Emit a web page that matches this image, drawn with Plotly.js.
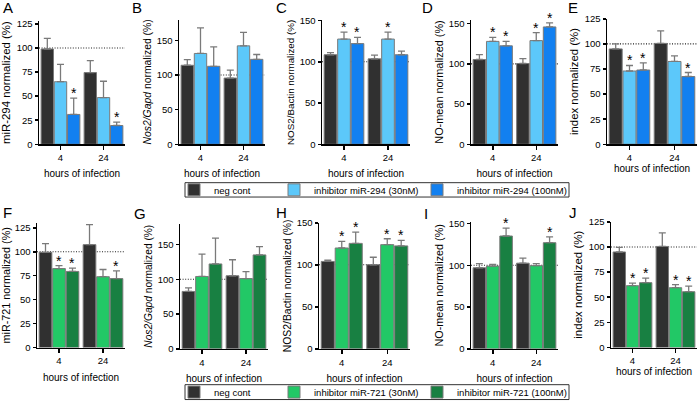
<!DOCTYPE html>
<html><head><meta charset="utf-8">
<script src="https://cdn.plot.ly/plotly-3.0.1.min.js"></script>
<style>html,body{margin:0;padding:0;background:#fff}#chart{width:700px;height:407px}</style>
</head><body><div id="chart"></div>
<script>
// ---------- data ----------
const hours = ['4', '24'];
const names294 = ['neg cont', 'inhibitor miR-294 (30nM)', 'inhibitor miR-294 (100nM)'];
const names721 = ['neg cont', 'inhibitor miR-721 (30nM)', 'inhibitor miR-721 (100nM)'];
const colors294 = ['#303030', '#5cc8fa', '#1280f0'];
const colors721 = ['#303030', '#22c866', '#188042'];

// A: miR-294 normalized
const A_neg = [99, 74.5],    A_neg_err = [11, 12.5];
const A_i30 = [65, 48.5],    A_i30_err = [18, 17];
const A_i100 = [31, 19.5],   A_i100_err = [17, 3.5];
const A_sig30 = [0, 0],      A_sig100 = [1, 1];
// B: Nos2/Gapd normalized
const B_neg = [114, 95.5],   B_neg_err = [8, 11.5];
const B_i30 = [131, 142],    B_i30_err = [37, 19.5];
const B_i100 = [112.5, 122.5], B_i100_err = [28, 7];
const B_sig30 = [0, 0],      B_sig100 = [0, 0];
// C: NOS2/Bactin normalized
const C_neg = [108.5, 103.5], C_neg_err = [2.5, 4.5];
const C_i30 = [127.5, 127.5], C_i30_err = [8.5, 8.5];
const C_i100 = [122, 108.5],  C_i100_err = [7.5, 4.5];
const C_sig30 = [1, 1],       C_sig100 = [1, 0];
// D: NO-mean normalized
const D_neg = [105.5, 100.5], D_neg_err = [6, 6];
const D_i30 = [128, 129],     D_i30_err = [5, 10];
const D_i100 = [122.5, 146],  D_i100_err = [5.5, 5];
const D_sig30 = [1, 1],       D_sig100 = [1, 1];
// E: index normalized
const E_neg = [95, 100.5],   E_neg_err = [5, 12.5];
const E_i30 = [73, 82.5],    E_i30_err = [5.5, 5.5];
const E_i100 = [74, 67.5],   E_i100_err = [7, 4];
const E_sig30 = [1, 0],      E_sig100 = [1, 1];
// F: miR-721 normalized
const F_neg = [99.5, 107.5], F_neg_err = [9, 21];
const F_i30 = [82.5, 74],    F_i30_err = [3, 7.5];
const F_i100 = [79.5, 72],   F_i100_err = [3.5, 8];
const F_sig30 = [1, 0],      F_sig100 = [1, 1];
// G: Nos2/Gapd normalized
const G_neg = [82.5, 105],   G_neg_err = [5, 23];
const G_i30 = [104, 101],    G_i30_err = [32, 10];
const G_i100 = [122, 135],   G_i100_err = [37, 12];
const G_sig30 = [0, 0],      G_sig100 = [0, 0];
// H: NOS2/Bactin normalized
const H_neg = [104, 100],    H_neg_err = [1.5, 9];
const H_i30 = [120, 124],    H_i30_err = [8, 7];
const H_i100 = [125.5, 122.5], H_i100_err = [13.5, 6.5];
const H_sig30 = [1, 1],      H_sig100 = [1, 1];
// I: NO-mean normalized
const I_neg = [97, 102.5],   I_neg_err = [5, 6];
const I_i30 = [99, 99.5],    I_i30_err = [2, 2.5];
const I_i100 = [135, 127],   I_i100_err = [9.5, 7];
const I_sig30 = [0, 0],      I_sig100 = [1, 1];
// J: index normalized
const J_neg = [95, 100.5],   J_neg_err = [4.5, 13.5];
const J_i30 = [61.5, 59.5],  J_i30_err = [2.5, 3];
const J_i100 = [64.5, 55.5], J_i100_err = [4.5, 5.5];
const J_sig30 = [1, 1],      J_sig100 = [1, 1];

const ticks25 = [0, 25, 50, 75, 100, 125];
const ticks50 = [0, 50, 100, 150];

// ---------- layout geometry ----------
const W = 700, H = 407;
const FONT = 'Liberation Sans, Arial, Helvetica, sans-serif';
const bargap = 0.08;

const panels = [
  {L:'A', t:'miR-294 normalized (%)', ts:11.4, v:[A_neg,A_i30,A_i100], e:[A_neg_err,A_i30_err,A_i100_err], s:[null,A_sig30,A_sig100], n:names294, c:colors294, tv:ticks25, r:[0,128], box:[39,125,21.3,145.7], lp:[8,8], xs:8},
  {L:'B', t:'<i>Nos2/Gapd</i> normalized (%)', ts:10.4, v:[B_neg,B_i30,B_i100], e:[B_neg_err,B_i30_err,B_i100_err], s:[null,B_sig30,B_sig100], n:names294, c:colors294, tv:ticks50, r:[0,180], box:[179,265,19.7,145.7], lp:[137,8], xs:8},
  {L:'C', t:'NOS2/Bactin normalized (%)', ts:9.8, v:[C_neg,C_i30,C_i100], e:[C_neg_err,C_i30_err,C_i100_err], s:[null,C_sig30,C_sig100], n:names294, c:colors294, tv:ticks50, r:[0,150], box:[322,410,20.7,145.7], lp:[281,8], xs:8},
  {L:'D', t:'NO-mean normalized (%)', ts:10.9, v:[D_neg,D_i30,D_i100], e:[D_neg_err,D_i30_err,D_i100_err], s:[null,D_sig30,D_sig100], n:names294, c:colors294, tv:ticks50, r:[0,155], box:[471,558,19.9,145.7], lp:[427,8], xs:8},
  {L:'E', t:'index normalized (%)', ts:11.4, v:[E_neg,E_i30,E_i100], e:[E_neg_err,E_i30_err,E_i100_err], s:[null,E_sig30,E_sig100], n:names294, c:colors294, tv:ticks25, r:[0,125], box:[607,697,19,145.7], lp:[573,8], xs:2},
  {L:'F', t:'miR-721 normalized (%)', ts:10.8, v:[F_neg,F_i30,F_i100], e:[F_neg_err,F_i30_err,F_i100_err], s:[null,F_sig30,F_sig100], n:names721, c:colors721, tv:ticks25, r:[0,130], box:[37,125,225.3,351], lp:[7,215], xs:8},
  {L:'G', t:'<i>Nos2/Gapd</i> normalized (%)', ts:10.2, v:[G_neg,G_i30,G_i100], e:[G_neg_err,G_i30_err,G_i100_err], s:[null,G_sig30,G_sig100], n:names721, c:colors721, tv:ticks50, r:[0,180], box:[180,268,225.8,352.3], lp:[140,216], xs:8},
  {L:'H', t:'NOS2/Bactin normalized (%)', ts:10.4, v:[H_neg,H_i30,H_i100], e:[H_neg_err,H_i30_err,H_i100_err], s:[null,H_sig30,H_sig100], n:names721, c:colors721, tv:ticks50, r:[0,150], box:[319,410,225,352.3], lp:[281,215], xs:8},
  {L:'I', t:'NO-mean normalized (%)', ts:10.8, v:[I_neg,I_i30,I_i100], e:[I_neg_err,I_i30_err,I_i100_err], s:[null,I_sig30,I_sig100], n:names721, c:colors721, tv:ticks50, r:[0,152], box:[471,558,224,352.3], lp:[426,216], xs:8},
  {L:'J', t:'index normalized (%)', ts:11.5, v:[J_neg,J_i30,J_i100], e:[J_neg_err,J_i30_err,J_i100_err], s:[null,J_sig30,J_sig100], n:names721, c:colors721, tv:ticks25, r:[0,125], box:[611,697,224,351], lp:[573,215], xs:2}
];

const traces = [];
const layout = {
  width: W, height: H,
  margin: {l:0, r:0, t:0, b:0},
  paper_bgcolor: '#fff', plot_bgcolor: 'rgba(0,0,0,0)',
  font: {family: FONT, color: '#000', size: 10},
  barmode: 'group', bargap: bargap, bargroupgap: 0.06,
  showlegend: true,
  annotations: [], shapes: []
};

panels.forEach((p, i) => {
  const k = i + 1;
  const xa = k === 1 ? 'x' : 'x' + k;
  const ya = k === 1 ? 'y' : 'y' + k;
  const [x0, x1, top, bot] = p.box;
  layout[k === 1 ? 'xaxis' : 'xaxis' + k] = {
    domain: [x0 / W, x1 / W], anchor: ya,
    type: 'category', categoryorder: 'array', categoryarray: hours,
    range: [-0.5, 1.5], fixedrange: true,
    showline: true, linecolor: '#000', linewidth: 1.5,
    ticks: 'outside', ticklen: 4, tickwidth: 1.5, tickcolor: '#000',
    tickfont: {size: 9.5, family: FONT},
    showgrid: false, zeroline: false,
    title: {text: 'hours of infection', font: {size: 10, family: FONT}, standoff: p.xs}
  };
  layout[k === 1 ? 'yaxis' : 'yaxis' + k] = {
    domain: [1 - bot / H, 1 - top / H], anchor: xa,
    range: p.r, fixedrange: true,
    tickmode: 'array', tickvals: p.tv,
    showline: true, linecolor: '#000', linewidth: 1.5,
    ticks: 'outside', ticklen: 3, tickwidth: 1.5, tickcolor: '#000',
    tickfont: {size: 9.5, family: FONT},
    showgrid: false, zeroline: false,
    title: {text: p.t, font: {size: p.ts, family: FONT}, standoff: 3}
  };
  // dotted 100% reference line
  layout.shapes.push({
    type: 'line', layer: 'below',
    xref: xa + ' domain', x0: 0, x1: 1,
    yref: ya, y0: 100, y1: 100,
    line: {color: '#222', width: 1.1, dash: '1px,1.6px'}
  });
  // panel letter
  layout.annotations.push({
    xref: 'paper', yref: 'paper', x: p.lp[0] / W, y: 1 - p.lp[1] / H,
    xanchor: 'center', yanchor: 'middle', showarrow: false,
    text: p.L, font: {size: 15, family: FONT, color: '#000'}
  });
  const bw = (1 - bargap) / 3;
  for (let s = 0; s < 3; s++) {
    const isLegendPanel = (p.L === 'A' || p.L === 'F');
    const tr = {
      type: 'bar', x: hours, y: p.v[s], name: p.n[s],
      xaxis: xa, yaxis: ya,
      marker: {color: p.c[s], line: {color: '#7a7a7a', width: 1}},
      error_y: {type: 'data', array: p.e[s], symmetric: false, arrayminus: [0, 0],
                color: '#7a7a7a', thickness: 1.3, width: 3.5},
      showlegend: isLegendPanel,
      legend: p.L === 'F' ? 'legend2' : 'legend',
      hoverinfo: 'skip'
    };
    if (s === 0) tr.legendwidth = 55;
    if (s === 1) tr.legendwidth = 98;
    traces.push(tr);
    // significance stars
    if (p.s[s]) {
      p.s[s].forEach((flag, g) => {
        if (!flag) return;
        layout.annotations.push({
          xref: xa, yref: ya, x: g + (s - 1) * bw, y: p.v[s][g] + p.e[s][g],
          xanchor: 'center', yanchor: 'bottom', yshift: -5, showarrow: false,
          text: '*', font: {size: 14, family: FONT, color: '#000'}
        });
      });
    }
  }
});

// legends
const legendCommon = {
  orientation: 'h', xanchor: 'left', yanchor: 'middle',
  bgcolor: 'rgba(0,0,0,0)', borderwidth: 0,
  font: {size: 9.5, family: FONT, color: '#000'},
  itemclick: false, itemdoubleclick: false
};
layout.legend = Object.assign({}, legendCommon, {x: 174 / W, y: 1 - 191.7 / H});
layout.legend2 = Object.assign({}, legendCommon, {x: 174 / W, y: 1 - 396 / H});
// legend frames
layout.shapes.push({type: 'rect', xref: 'paper', yref: 'paper',
  x0: 185 / W, x1: 569 / W, y0: 1 - 199 / H, y1: 1 - 184.5 / H,
  line: {color: '#333', width: 1}, fillcolor: 'rgba(0,0,0,0)'});
layout.shapes.push({type: 'rect', xref: 'paper', yref: 'paper',
  x0: 185 / W, x1: 569 / W, y0: 1 - 403.5 / H, y1: 1 - 388.5 / H,
  line: {color: '#333', width: 1}, fillcolor: 'rgba(0,0,0,0)'});

Plotly.newPlot('chart', traces, layout, {displayModeBar: false, staticPlot: true});
</script>
</body></html>
